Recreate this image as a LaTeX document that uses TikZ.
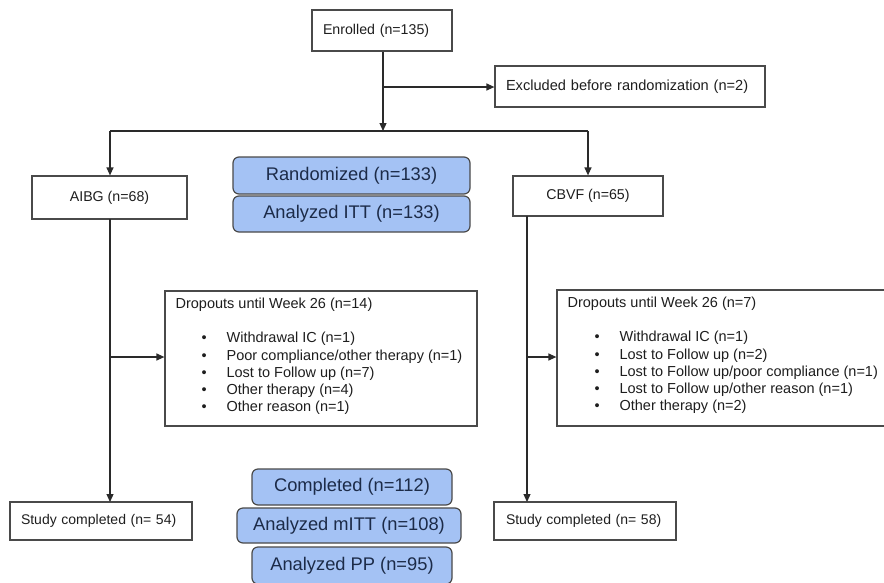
\documentclass[tikz,border=0pt]{standalone}
\usepackage{fontspec}
\setmainfont{Liberation Sans}
\usetikzlibrary{arrows.meta,calc}
\definecolor{lncol}{HTML}{2A2A2A}
\definecolor{bdcol}{HTML}{4A4A4A}
\definecolor{bluefill}{HTML}{A4C2F4}
\definecolor{bluetext}{HTML}{1C2B48}
\definecolor{txtcol}{HTML}{1E1E1E}
\begin{document}
\begin{tikzpicture}[x=1pt,y=-1pt,
  wbox/.style={draw=bdcol,line width=1.2pt,fill=white,inner sep=0pt,text=txtcol,
    font=\fontsize{14.2}{17}\selectfont},
  wboxl/.style={wbox,inner xsep=11pt,align=left},
  bbox/.style={draw=bdcol,line width=1.2pt,fill=bluefill,rounded corners=6pt,inner sep=0pt,
    text=bluetext,font=\fontsize{18.3}{21}\selectfont},
  ln/.style={draw=lncol,line width=1.2pt},
  arr/.style={ln,-{Triangle[length=8pt,width=7pt]}},
  bul/.style={anchor=north west,align=left,inner sep=0pt,text=txtcol,
    font=\fontsize{14.5}{17.3}\selectfont}
]
\useasboundingbox (0,0) rectangle (884,582);
\begin{scope}
\clip (0,0) rectangle (884,582);
% boxes
\node[wboxl,minimum width=140pt,text width=118pt,minimum height=41pt] (enr) at (382,30.5) {Enrolled (n=135)};
\node[wboxl,minimum width=270pt,text width=248pt,minimum height=41pt,font=\fontsize{14.6}{17}\selectfont] (exc) at (630,86.5) {Excluded before randomization (n=2)};
\node[wbox,minimum width=155pt,minimum height=43pt] (aibg) at (109.5,197.5) {AIBG (n=68)};
\node[wbox,minimum width=150pt,minimum height=40pt] (cbvf) at (588,196) {CBVF (n=65)};
\node[bbox,minimum width=237pt,minimum height=37pt] (rand) at (351.5,175.5) {Randomized (n=133)};
\node[bbox,minimum width=237pt,minimum height=36pt] (itt) at (351.5,214) {Analyzed ITT (n=133)};
\node[wbox,minimum width=312pt,minimum height=135pt] (d1) at (321,358.5) {};
\node[wbox,minimum width=333pt,minimum height=136pt] (d2) at (723.5,358) {};
\node[wboxl,minimum width=182pt,text width=160pt,minimum height=38pt,font=\fontsize{14}{17}\selectfont] (sc1) at (101,521) {Study completed (n=~54)};
\node[wboxl,minimum width=182pt,minimum height=38pt,inner xsep=12pt,text width=158pt,font=\fontsize{14}{17}\selectfont] (sc2) at (585,521) {Study completed (n=~58)};
\node[bbox,minimum width=200pt,minimum height=36pt] (comp) at (352,487) {Completed (n=112)};
\node[bbox,minimum width=224pt,minimum height=35pt] (mitt) at (349,525.5) {Analyzed mITT (n=108)};
\node[bbox,minimum width=200pt,minimum height=37pt] (pp) at (352,565.5) {Analyzed PP (n=95)};
% dropout texts
\node[bul] (d1t) at ($(d1.north west)+(11,7)$) {Dropouts until Week 26 (n=14)\\[17.3pt]
\makebox[51pt][l]{\hspace{26pt}•}Withdrawal IC (n=1)\\
\makebox[51pt][l]{\hspace{26pt}•}Poor compliance/other therapy (n=1)\\
\makebox[51pt][l]{\hspace{26pt}•}Lost to Follow up (n=7)\\
\makebox[51pt][l]{\hspace{26pt}•}Other therapy (n=4)\\
\makebox[51pt][l]{\hspace{26pt}•}Other reason (n=1)};
\node[bul] (d2t) at ($(d2.north west)+(11,7)$) {Dropouts until Week 26 (n=7)\\[17.3pt]
\makebox[52pt][l]{\hspace{27pt}•}Withdrawal IC (n=1)\\
\makebox[52pt][l]{\hspace{27pt}•}Lost to Follow up (n=2)\\
\makebox[52pt][l]{\hspace{27pt}•}Lost to Follow up/poor compliance (n=1)\\
\makebox[52pt][l]{\hspace{27pt}•}Lost to Follow up/other reason (n=1)\\
\makebox[52pt][l]{\hspace{27pt}•}Other therapy (n=2)};
% junction coordinates
\coordinate (jexc) at (383,87);
\coordinate (jmid) at (383,131);
\coordinate (jl) at (110,131);
\coordinate (jr) at (588,131);
\coordinate (al) at (110,219);
\coordinate (jd1) at (110,357);
\coordinate (sc1t) at (110,502);
\coordinate (ar) at (527,216);
\coordinate (jd2) at (527,357);
\coordinate (sc2t) at (527,502);
% connectors
\draw[ln] (enr.south -| jmid) -- (jexc);
\draw[arr] (jexc) -- (jmid);
\draw[arr] (jexc) -- (jexc -| exc.west);
\draw[ln] (jl) -- (jr);
\draw[arr] (jl) -- (aibg.north -| jl);
\draw[arr] (jr) -- (cbvf.north);
\draw[ln] (al) -- (jd1);
\draw[arr] (jd1) -- (sc1t);
\draw[arr] (jd1) -- (jd1 -| d1.west);
\draw[ln] (ar) -- (jd2);
\draw[arr] (jd2) -- (sc2t);
\draw[arr] (jd2) -- (jd2 -| d2.west);
\end{scope}
\end{tikzpicture}
\end{document}
